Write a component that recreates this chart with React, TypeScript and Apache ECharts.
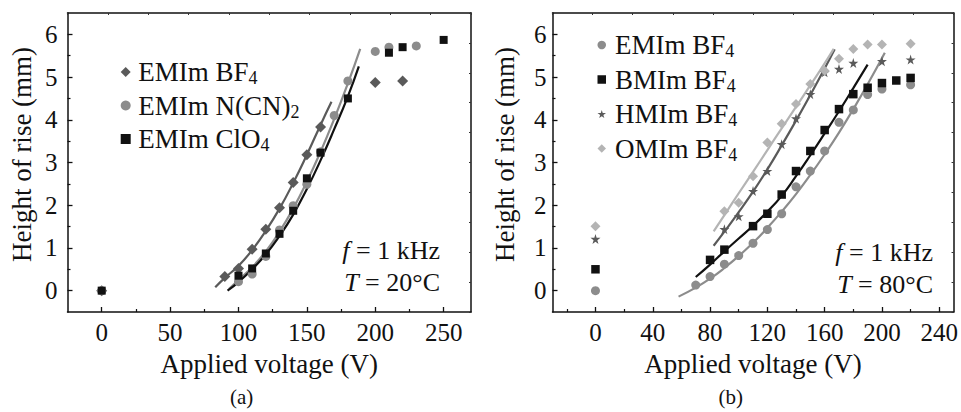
import React, { useEffect, useRef } from "react";
import * as echarts from "echarts";

const FONT = "Liberation Serif";

// ---------- Panel (a) : T = 20 °C ----------
const aTicksX = [0, 50, 100, 150, 200, 250];
const aMinorX = [25, 75, 125, 175, 225];
const ticksY = [0, 1, 2, 3, 4, 5, 6];
const minorTicksY = [0.5, 1.5, 2.5, 3.5, 4.5, 5.5];

const aBF4 = [[0, 0], [90, 0.33], [100, 0.52], [110, 0.97], [120, 1.44], [130, 1.94], [140, 2.53], [150, 3.18], [160, 3.83], [200, 4.87], [220, 4.91]];
const aNCN = [[0, 0], [100, 0.21], [110, 0.39], [120, 0.8], [130, 1.42], [140, 1.99], [150, 2.49], [160, 3.25], [170, 4.1], [180, 4.91], [200, 5.6], [210, 5.7], [230, 5.73]];
const aClO4 = [[0, 0], [100, 0.35], [110, 0.52], [120, 0.87], [130, 1.33], [140, 1.87], [150, 2.63], [160, 3.23], [180, 4.5], [210, 5.57], [220, 5.7], [250, 5.87]];

const aFitBF4 = [[83, 0.08], [90, 0.3], [100, 0.58], [110, 0.95], [120, 1.4], [130, 1.92], [140, 2.52], [150, 3.18], [160, 3.88], [168, 4.42]];
const aFitNCN = [[93, 0.04], [100, 0.25], [110, 0.55], [120, 0.92], [130, 1.38], [140, 1.92], [150, 2.55], [160, 3.25], [170, 4.02], [180, 4.85], [189, 5.66]];
const aFitClO4 = [[92, 0], [100, 0.2], [110, 0.5], [120, 0.85], [130, 1.28], [140, 1.78], [150, 2.38], [160, 3.05], [170, 3.78], [180, 4.55], [188, 5.25]];

// ---------- Panel (b) : T = 80 °C ----------
const bTicksX = [0, 40, 80, 120, 160, 200, 240];
const bMinorX = [-20, 20, 60, 100, 140, 180, 220];

const bEMIm = [[0, 0], [70, 0.13], [80, 0.33], [90, 0.62], [100, 0.82], [110, 1.11], [120, 1.43], [130, 1.8], [140, 2.43], [150, 2.8], [160, 3.27], [170, 3.94], [180, 4.23], [190, 4.59], [200, 4.72], [220, 4.82]];
const bBMIm = [[0, 0.5], [80, 0.72], [90, 0.96], [110, 1.51], [120, 1.8], [130, 2.25], [140, 2.8], [150, 3.27], [160, 3.76], [170, 4.25], [180, 4.6], [190, 4.75], [200, 4.86], [210, 4.92], [220, 4.98]];
const bHMIm = [[0, 1.21], [90, 1.44], [100, 1.74], [110, 2.33], [120, 2.8], [130, 3.43], [140, 4.03], [150, 4.6], [160, 5.11], [170, 5.19], [180, 5.33], [200, 5.37], [220, 5.41]];
const bOMIm = [[0, 1.51], [90, 1.86], [100, 2.06], [110, 2.68], [120, 3.47], [130, 3.91], [140, 4.37], [150, 4.84], [160, 5.15], [170, 5.43], [180, 5.66], [190, 5.76], [200, 5.76], [220, 5.78]];

const bFitEMIm = [[58, -0.14], [70, 0.07], [80, 0.28], [90, 0.53], [100, 0.81], [110, 1.12], [120, 1.47], [130, 1.85], [140, 2.26], [150, 2.71], [160, 3.19], [170, 3.7], [180, 4.25], [190, 4.83], [202, 5.57]];
const bFitBMIm = [[70, 0.32], [80, 0.61], [90, 0.92], [100, 1.22], [110, 1.52], [120, 1.85], [130, 2.22], [140, 2.68], [150, 3.17], [160, 3.68], [170, 4.2], [180, 4.74], [190, 5.29]];
const bFitHMIm = [[82.5, 1.05], [90, 1.38], [100, 1.84], [110, 2.32], [120, 2.84], [130, 3.4], [140, 3.98], [150, 4.58], [160, 5.2], [167, 5.65]];
const bFitOMIm = [[82.5, 1.39], [90, 1.77], [100, 2.28], [110, 2.78], [120, 3.29], [130, 3.8], [140, 4.3], [150, 4.81], [160, 5.32], [166.3, 5.66]];

const DARK = "#5a5a5a";
const MID = "#8c8c8c";
const LIGHT = "#b4b4b4";
const BLACK = "#111111";
const STAR = "path://M50,0 L61,35 L98,35 L68,57 L79,91 L50,70 L21,91 L32,57 L2,35 L39,35 Z";

const frameLine = { show: true, onZero: false, lineStyle: { color: "#111", width: 1.5 } };

function mainX(grid: number, min: number, max: number, ticks: number[]) {
  return {
    type: "value", gridIndex: grid, min, max, position: "bottom",
    axisLine: frameLine,
    axisTick: { show: true, inside: true, length: 5, lineStyle: { color: "#111", width: 1.3 }, customValues: ticks },
    axisLabel: { show: true, customValues: ticks, margin: 8, color: "#111", fontSize: 25, fontFamily: FONT },
    splitLine: { show: false },
    name: "Applied voltage (V)", nameLocation: "middle", nameGap: 38,
    nameTextStyle: { fontSize: 27, fontFamily: FONT, color: "#111" },
  };
}
function minorXAxis(grid: number, min: number, max: number, ticks: number[]) {
  return {
    type: "value", gridIndex: grid, min, max, position: "bottom",
    axisLine: { show: false, onZero: false },
    axisTick: { show: true, inside: true, length: 3, lineStyle: { color: "#111", width: 1.2 }, customValues: ticks },
    axisLabel: { show: false },
    splitLine: { show: false },
  };
}
function topX(grid: number) {
  return {
    type: "value", gridIndex: grid, min: 0, max: 10, interval: 1, position: "top",
    axisLine: frameLine,
    axisTick: { show: true, inside: true, length: 2, lineStyle: { color: "#333", width: 1 } },
    axisLabel: { show: false },
    splitLine: { show: false },
  };
}
function mainY(grid: number, margin: number, gap: number) {
  return {
    type: "value", gridIndex: grid, min: -0.5, max: 6.5, position: "left",
    axisLine: frameLine,
    axisTick: { show: true, inside: true, length: 5, lineStyle: { color: "#111", width: 1.3 }, customValues: ticksY },
    axisLabel: { show: true, customValues: ticksY, margin, color: "#111", fontSize: 25, fontFamily: FONT },
    splitLine: { show: false },
    name: "Height of rise (mm)", nameLocation: "middle", nameGap: gap,
    nameTextStyle: { fontSize: 27, fontFamily: FONT, color: "#111", padding: [0, 0, 0, 16] },
  };
}
function minorYAxis(grid: number) {
  return {
    type: "value", gridIndex: grid, min: -0.5, max: 6.5, position: "left",
    axisLine: { show: false, onZero: false },
    axisTick: { show: true, inside: true, length: 3, lineStyle: { color: "#111", width: 1.2 }, customValues: minorTicksY },
    axisLabel: { show: false },
    splitLine: { show: false },
  };
}
function rightY(grid: number) {
  return {
    type: "value", gridIndex: grid, min: 0, max: 10, interval: 1, position: "right",
    axisLine: frameLine,
    axisTick: { show: true, inside: true, length: 2, lineStyle: { color: "#333", width: 1 } },
    axisLabel: { show: false },
    splitLine: { show: false },
  };
}

function scatter(name: string, data: number[][], axis: number, symbol: string, size: number, color: string) {
  return {
    name, type: "scatter", xAxisIndex: axis, yAxisIndex: axis, data, symbol, symbolSize: size,
    itemStyle: { color, opacity: 1 }, z: 3,
  };
}
function fit(name: string, data: number[][], axis: number, color: string) {
  return {
    name, type: "line", xAxisIndex: axis, yAxisIndex: axis, data, showSymbol: false, smooth: true,
    lineStyle: { color, width: 2.2 }, z: 2, silent: true,
  };
}

const legendFormatter = (name: string) => {
  const n = name.replace(/^[ab]:/, "");
  const m = n.match(/^(.*?)(\d)$/);
  return m ? `{m|${m[1]}}{s|${m[2]}}` : `{m|${n}}`;
};
function legendRich(pad: number) {
  return {
    m: { fontSize: 27, fontFamily: FONT, color: "#111", lineHeight: 30, padding: [0, 0, 0, pad] },
    s: { fontSize: 18, fontFamily: FONT, color: "#111", lineHeight: 14, verticalAlign: "bottom" },
  };
}

function annot(x: number, y: number, text: string) {
  return {
    type: "text", x, y,
    style: {
      text, align: "right", verticalAlign: "middle", fill: "#111",
      fontSize: 26, fontFamily: FONT,
      rich: { i: { fontStyle: "italic", fontSize: 26, fontFamily: FONT, fill: "#111" } },
    },
  };
}

export default function App() {
  const ref = useRef<HTMLDivElement>(null);
  useEffect(() => {
    if (!ref.current) return;
    const chart = echarts.init(ref.current, null, { renderer: "svg" });
    chart.setOption({
      animation: false,
      backgroundColor: "#ffffff",
      textStyle: { fontFamily: FONT },
      grid: [
        { left: 67.5, top: 13, width: 403.5, height: 299 },
        { left: 552.5, top: 13, width: 401.5, height: 299 },
      ],
      xAxis: [
        mainX(0, -25, 270, aTicksX), minorXAxis(0, -25, 270, aMinorX), topX(0),
        mainX(1, -30, 250, bTicksX), minorXAxis(1, -30, 250, bMinorX), topX(1),
      ],
      yAxis: [
        mainY(0, 10, 32), minorYAxis(0), rightY(0),
        mainY(1, 6, 34), minorYAxis(1), rightY(1),
      ],
      legend: [
        {
          orient: "vertical", left: 115.7, top: 53.5, itemWidth: 10, itemHeight: 10, itemGap: 5,
          selectedMode: false, data: ["a:EMIm BF4", "a:EMIm N(CN)2", "a:EMIm ClO4"],
          formatter: legendFormatter, textStyle: { fontFamily: FONT, rich: legendRich(2.6) },
        },
        {
          orient: "vertical", left: 592.5, top: 26.5, itemWidth: 8.5, itemHeight: 8.5, itemGap: 6,
          selectedMode: false, data: ["b:EMIm BF4", "b:BMIm BF4", "b:HMIm BF4", "b:OMIm BF4"],
          formatter: legendFormatter, textStyle: { fontFamily: FONT, rich: legendRich(4) },
        },
      ],
      graphic: [
        annot(440, 250, "{i|f} = 1 kHz"),
        annot(440, 282, "{i|T} = 20°C"),
        annot(933, 252, "{i|f} = 1 kHz"),
        annot(933, 284, "{i|T} = 80°C"),
        { type: "text", x: 241.7, y: 397, style: { text: "(a)", align: "center", verticalAlign: "middle", fontSize: 21, fontFamily: FONT, fill: "#111" } },
        { type: "text", x: 730.7, y: 397, style: { text: "(b)", align: "center", verticalAlign: "middle", fontSize: 21, fontFamily: FONT, fill: "#111" } },
      ],
      series: [
        fit("a:fit BF4", aFitBF4, 0, DARK),
        fit("a:fit NCN", aFitNCN, 0, MID),
        fit("a:fit ClO4", aFitClO4, 0, BLACK),
        scatter("a:EMIm BF4", aBF4, 0, "diamond", 11, DARK),
        scatter("a:EMIm N(CN)2", aNCN, 0, "circle", 9, MID),
        scatter("a:EMIm ClO4", aClO4, 0, "rect", 8, BLACK),
        fit("b:fit EMIm", bFitEMIm, 3, MID),
        fit("b:fit BMIm", bFitBMIm, 3, BLACK),
        fit("b:fit HMIm", bFitHMIm, 3, DARK),
        fit("b:fit OMIm", bFitOMIm, 3, LIGHT),
        scatter("b:EMIm BF4", bEMIm, 3, "circle", 9, MID),
        scatter("b:BMIm BF4", bBMIm, 3, "rect", 8.5, BLACK),
        scatter("b:HMIm BF4", bHMIm, 3, STAR, 10, DARK),
        scatter("b:OMIm BF4", bOMIm, 3, "diamond", 10, LIGHT),
      ],
    });
    return () => chart.dispose();
  }, []);
  return (
    <div
      ref={ref}
      style={{ position: "fixed", left: 0, top: 0, width: 961, height: 412, background: "#fff" }}
    />
  );
}
